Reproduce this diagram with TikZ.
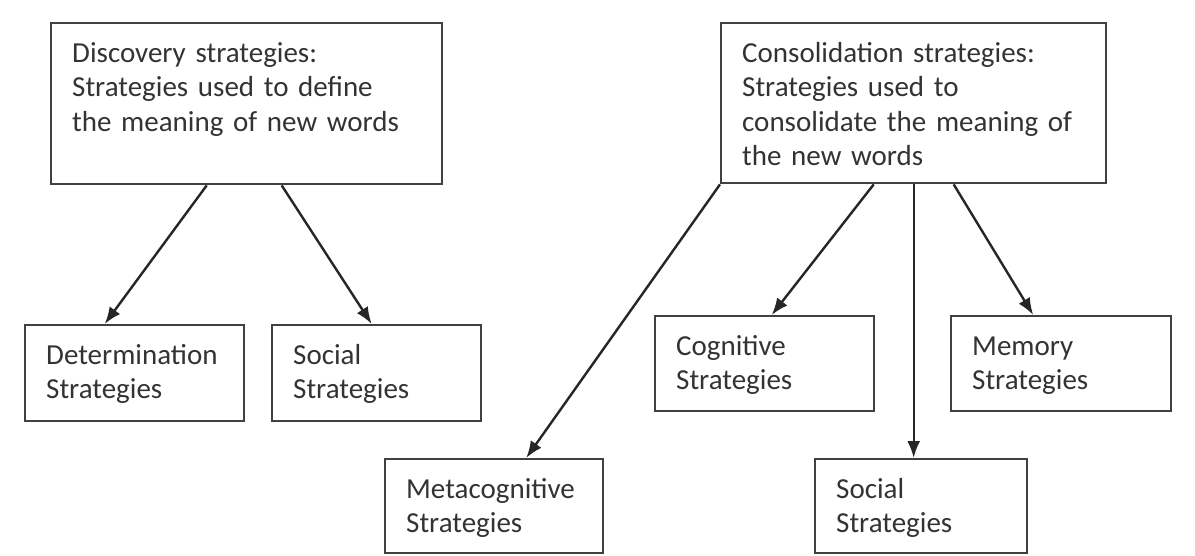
\documentclass[tikz,border=0pt]{standalone}
\usepackage{fontspec}
\setmainfont{Carlito}
\usetikzlibrary{arrows.meta}

\begin{document}
\begin{tikzpicture}[x=1pt, y=-1pt,
	stratbox/.style={draw=black!75, line width=2.4pt, text=black!80, anchor=north west,
		align=left, inner xsep=21pt, inner ysep=0pt, text height=39pt,
		font=\fontsize{29}{34.5}\selectfont},
	link/.style={draw=black!85, line width=2.4pt, -{Latex[length=17pt,width=13pt]}}]
	%%%%% START %%%%%
	\useasboundingbox (0, 0) rectangle (1195, 555);
	
	% top boxes
	\node[stratbox, text width=349pt, text depth=122pt] (disc) at (50, 22) {Discovery strategies:\\Strategies used to define\\the meaning of new words};
	\node[stratbox, text width=343pt, text depth=121pt] (cons) at (720, 22) {Consolidation strategies:\\Strategies used to\\consolidate the meaning of\\the new words};
	
	% discovery branch
	\node[stratbox, text width=177pt, text depth=57pt] (det) at (24, 324) {Determination\\Strategies};
	\node[stratbox, text width=167pt, text depth=57pt] (socl) at (271, 324) {Social\\Strategies};
	
	% consolidation branch
	\node[stratbox, text width=177pt, text depth=56pt] (cog) at (654, 315) {Cognitive\\Strategies};
	\node[stratbox, text width=178pt, text depth=56pt] (mem) at (950, 315) {Memory\\Strategies};
	\node[stratbox, text width=176pt, text depth=55pt] (meta) at (384, 458) {Metacognitive\\Strategies};
	\node[stratbox, text width=170pt, text depth=55pt] (socr) at (814, 458) {Social\\Strategies};
	
	\draw[link] ([xshift=-40pt]disc.south) -- ([xshift=-30pt]det.north);
	\draw[link] ([xshift=35pt]disc.south) -- ([xshift=-5pt]socl.north);
	
	\draw[link] (cons.south west) -- ([xshift=32pt]meta.north);
	\draw[link] ([xshift=-40pt]cons.south) -- ([xshift=7pt]cog.north);
	\draw[link] (cons.south) -- (cons.south |- socr.north);
	\draw[link] ([xshift=40pt]cons.south) -- ([xshift=-28pt]mem.north);
	
	%%%%% END %%%%%
\end{tikzpicture}
\end{document}
